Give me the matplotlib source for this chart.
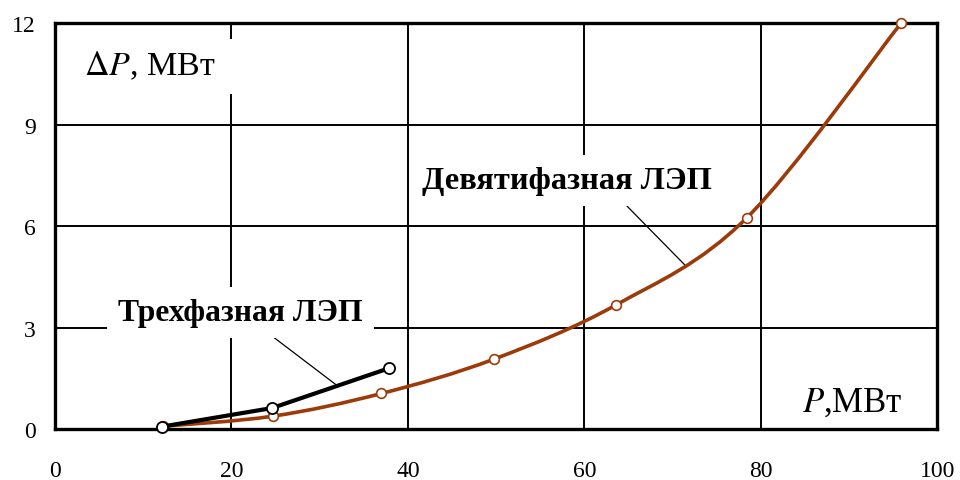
import numpy as np
import matplotlib.pyplot as plt
from matplotlib.path import Path
from matplotlib.patches import PathPatch, Rectangle

plt.rcParams['font.family'] = ['Liberation Serif', 'DejaVu Serif']

# мощность P, МВт и потери dP, МВт
p_nine = [12.2, 24.7, 37.0, 49.8, 63.6, 78.4, 95.9]
dp_nine = [0.08, 0.38, 1.05, 2.07, 3.67, 6.24, 12.0]

p_three = [12.1, 24.6, 37.9]
dp_three = [0.07, 0.62, 1.80]

x_ticks = [0, 20, 40, 60, 80, 100]
y_ticks = [0, 3, 6, 9, 12]

brown = '#9C3A0A'


def smooth_path(xs, ys):
    """Сглаженная кривая через точки (кубические Безье, Catmull-Rom)"""
    pts = np.column_stack([xs, ys])
    verts = [pts[0]]
    codes = [Path.MOVETO]
    n = len(pts)
    for i in range(n - 1):
        p0 = pts[i - 1] if i > 0 else pts[i]
        p1 = pts[i]
        p2 = pts[i + 1]
        p3 = pts[i + 2] if i + 2 < n else pts[i + 1]
        c1 = p1 + (p2 - p0) / 6.0
        c2 = p2 - (p3 - p1) / 6.0
        verts += [c1, c2, p2]
        codes += [Path.CURVE4] * 3
    return Path(verts, codes)


fig = plt.figure(figsize=(9.6, 4.81), dpi=100)
ax = fig.add_axes([0.0573, 0.106, 0.919, 0.844])

ax.set_xlim(0, 100)
ax.set_ylim(0, 12)
ax.set_xticks(x_ticks)
ax.set_yticks(y_ticks)
ax.tick_params(length=0, labelsize=17)
ax.tick_params(axis='x', pad=22)
ax.tick_params(axis='y', pad=14)
ax.grid(True, color='black', linewidth=1.4, zorder=0)
ax.set_axisbelow(True)
for s in ax.spines.values():
    s.set_linewidth(2.4)
    s.set_zorder(1)

# девятифазная линия
ax.add_patch(PathPatch(smooth_path(p_nine, dp_nine), facecolor='none',
                       edgecolor=brown, linewidth=2.6, zorder=3, clip_on=False))
ax.plot(p_nine, dp_nine, linestyle='none', marker='o', markersize=7,
        markerfacecolor='white', markeredgecolor=brown, markeredgewidth=1.2,
        zorder=4, clip_on=False)

# трехфазная линия
ax.plot(p_three, dp_three, color='black', linewidth=3.0, marker='o',
        markersize=8, markerfacecolor='white', markeredgecolor='black',
        markeredgewidth=1.3, zorder=5, clip_on=False)

# подпись оси Y на белой подложке
ax.add_patch(Rectangle((3.0, 9.9), 18.0, 1.64, facecolor='white',
                       edgecolor='none', zorder=1.5))
ax.text(10.7, 10.75, r'$\Delta P$, МВт', fontsize=24.5, ha='center', va='center',
        math_fontfamily='stix', zorder=2)
ax.text(90.4, 0.78, r'$P$,МВт', fontsize=25, ha='center', va='center',
        math_fontfamily='stix', zorder=2)

ax.annotate('Трехфазная ЛЭП', xy=(32.0, 1.28), xytext=(21.0, 3.45),
            fontsize=22.8, fontweight='bold', ha='center', va='center',
            bbox=dict(facecolor='white', edgecolor='none', pad=8),
            arrowprops=dict(arrowstyle='-', color='black', lw=0.9,
                            shrinkA=0, shrinkB=0, relpos=(0.58, 0.0)),
            zorder=2)

ax.annotate('Девятифазная ЛЭП', xy=(71.5, 4.82), xytext=(58.0, 7.35),
            fontsize=23.3, fontweight='bold', ha='center', va='center',
            bbox=dict(facecolor='white', edgecolor='none', pad=8),
            arrowprops=dict(arrowstyle='-', color='black', lw=0.9,
                            shrinkA=0, shrinkB=0, relpos=(0.67, 0.0)),
            zorder=2)

fig.savefig('out.png', dpi=100)
